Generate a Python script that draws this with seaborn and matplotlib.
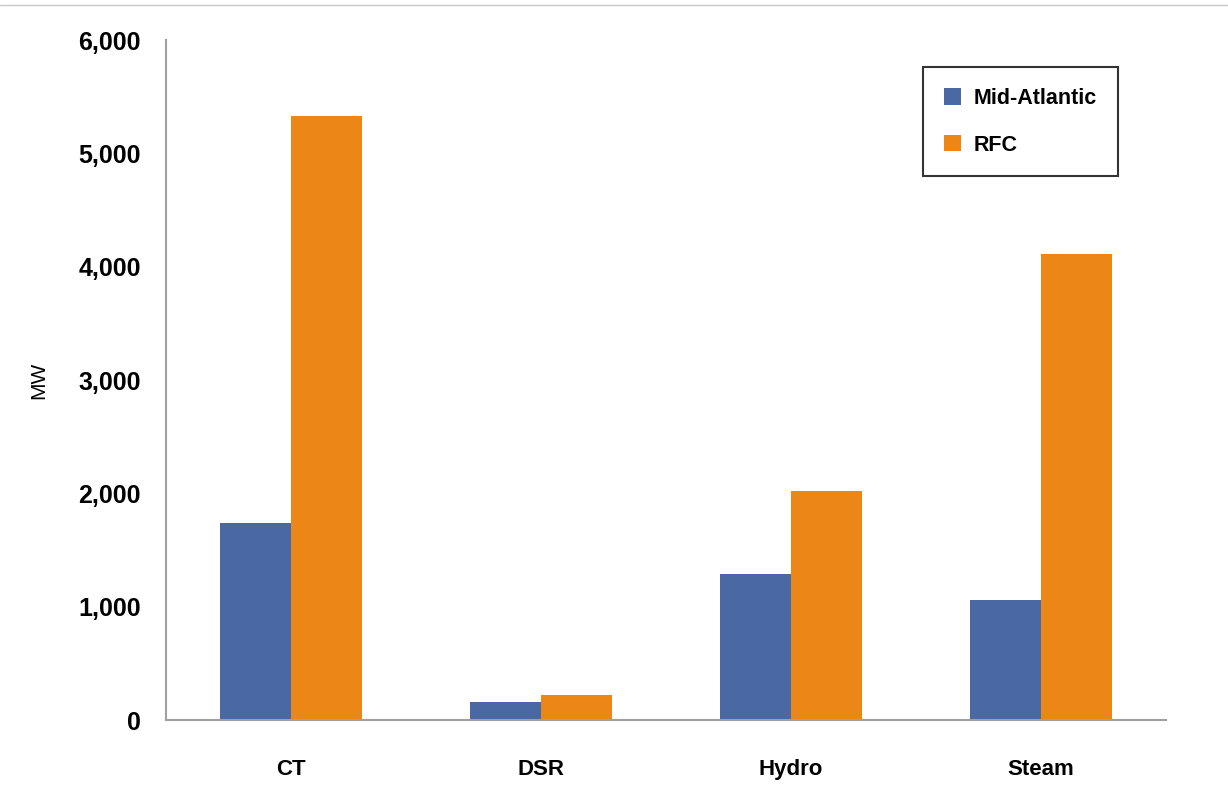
import matplotlib
matplotlib.use("Agg")
import matplotlib.pyplot as plt
from matplotlib.lines import Line2D
from matplotlib.ticker import FuncFormatter
import pandas as pd
import seaborn as sns

# ------------------------------------------------------------------ #
# Data
# ------------------------------------------------------------------ #
unit_types = ["CT", "DSR", "Hydro", "Steam"]
mid_atlantic = [1740, 160, 1290, 1060]
rfc = [5330, 220, 2020, 4110]
regions = ["Mid-Atlantic", "RFC"]
colors = {"Mid-Atlantic": "#4A69A4", "RFC": "#EB8617"}

df = pd.DataFrame({
    "unit": unit_types * 2,
    "region": [regions[0]] * len(unit_types) + [regions[1]] * len(unit_types),
    "mw": mid_atlantic + rfc,
})

sns.set_theme(style="white")
plt.rcParams["font.family"] = ["Liberation Sans", "DejaVu Sans"]
plt.rcParams["text.color"] = "black"
plt.rcParams["xtick.color"] = "black"
plt.rcParams["ytick.color"] = "black"
plt.rcParams["axes.labelcolor"] = "black"

fig = plt.figure(figsize=(12.28, 8.10), dpi=100)
ax = fig.add_axes([0.1352, 0.1111, 0.8143, 0.8395])

sns.barplot(
    data=df, x="unit", y="mw", hue="region", order=unit_types,
    hue_order=regions, palette=colors, width=0.57, saturation=1,
    linewidth=0, ax=ax,
)

ax.set_xlim(-0.5, 3.5)
ax.set_ylim(0, 6000)
ax.set_yticks(range(0, 6001, 1000))
ax.yaxis.set_major_formatter(FuncFormatter(lambda v, _: f"{int(v):,}"))
ax.tick_params(axis="y", length=0, pad=18, labelsize=18)
ax.tick_params(axis="x", length=0, pad=28, labelsize=16)
for lbl in ax.get_xticklabels() + ax.get_yticklabels():
    lbl.set_fontweight("bold")

ax.set_xlabel("")
ax.set_ylabel("MW", fontsize=15)
ax.yaxis.set_label_coords(-0.118, 0.5)

for side in ["top", "right"]:
    ax.spines[side].set_visible(False)
for side in ["left", "bottom"]:
    ax.spines[side].set_color("#A0A0A0")
    ax.spines[side].set_linewidth(1.5)

leg = ax.legend(
    loc="upper right", bbox_to_anchor=(0.9625, 0.9755), frameon=True,
    fancybox=False, edgecolor="black", handlelength=0.8,
    handleheight=0.8, labelspacing=1.2, borderpad=0.95, handletextpad=0.6,
    prop={"weight": "bold", "size": 15.5},
)
leg.get_frame().set_linewidth(1.5)

# thin border line across the top of the image
fig.add_artist(Line2D([0, 1], [0.994, 0.994], color="#C8C8C8", lw=1,
                      transform=fig.transFigure))

fig.savefig("out.png", dpi=100)
